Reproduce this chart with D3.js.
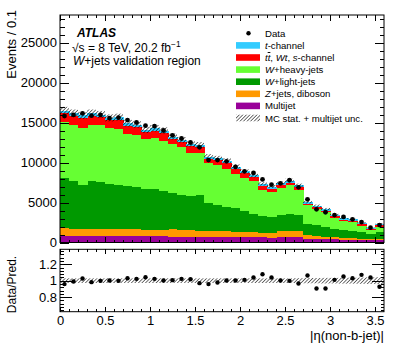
<!DOCTYPE html>
<html>
<head>
<meta charset="utf-8">
<script src="https://cdn.jsdelivr.net/npm/d3@7"></script>
<style>
  body { margin: 0; background: #fff; }
  svg { display: block; font-family: "Liberation Sans", Arial, sans-serif; }
</style>
</head>
<body>
<svg width="399" height="355"></svg>
<script>
// bins of |eta(non-b-jet)|, width 0.1, from 0 to 3.6
const binLow = d3.range(36).map(i => +(i * 0.1).toFixed(1));
const binWidth = 0.1;

// stacked predictions (events per bin), bottom to top
const multijet = [875, 830, 850, 820, 800, 800, 790, 800, 780, 760, 770, 760, 750, 740, 730, 720, 700, 690,
                  680, 670, 650, 650, 640, 620, 700, 720, 650, 500, 450, 400, 380, 350, 330, 300, 280, 300];
const zjets    = [915, 880, 900, 900, 900, 880, 860, 900, 900, 840, 850, 840, 900, 860, 820, 780, 750, 760,
                  700, 680, 650, 650, 610, 630, 750, 780, 750, 400, 350, 300, 270, 250, 220, 200, 170, 200];
const wlight   = [6250, 6040, 5460, 5990, 5840, 5650, 5600, 5380, 5320, 5030, 5010, 4900, 4520, 4400, 4240, 4380, 3470, 3300,
                  3120, 2980, 2580, 2280, 2080, 1920, 1930, 2080, 1980, 1430, 1450, 1300, 1060, 980, 870, 790, 630, 790];
const wheavy   = [7000, 6960, 7080, 7000, 7090, 6960, 6960, 6500, 6460, 6250, 6410, 6250, 6160, 5920, 5380, 5290, 5000, 4960,
                  4710, 4250, 4160, 4050, 3250, 3120, 3420, 3550, 3200, 2310, 1950, 1800, 1380, 1110, 1110, 830, 430, 710];
const ttbar    = [1160, 1160, 1290, 1160, 1070, 990, 1160, 1040, 990, 900, 950, 950, 620, 610, 860, 740, 580, 580,
                  790, 670, 590, 500, 500, 460, 350, 370, 320, 200, 200, 180, 170, 160, 150, 140, 120, 130];
const tchannel = [300, 300, 300, 300, 300, 300, 300, 300, 300, 300, 300, 300, 300, 300, 300, 300, 250, 250,
                  250, 250, 250, 250, 250, 250, 250, 250, 250, 200, 200, 200, 200, 200, 200, 200, 200, 200];

// observed data
const data = [15800, 15950, 16150, 15850, 15950, 15550, 15600, 15300, 15000, 14600, 14550, 14000, 13400, 13000, 12500, 11900, 10300, 10300,
              10150, 9450, 8900, 8700, 7880, 7230, 7400, 7780, 6900, 5400, 4150, 3780, 3430, 3200, 2900, 2550, 1850, 2180];
// Data / Pred.
const ratio = [0.958, 0.990, 1.026, 0.982, 0.998, 1.002, 0.998, 1.030, 1.022, 1.042, 1.022, 1.002, 1.006, 1.022, 1.018, 0.970, 0.958, 0.978,
               1.002, 1.002, 1.010, 1.038, 1.079, 1.038, 1.002, 0.998, 0.966, 1.063, 0.905, 0.905, 1.010, 1.051, 1.030, 1.071, 1.038, 0.925];
// relative MC stat. + multijet uncertainty
const relUnc = [0.028, 0.028, 0.028, 0.028, 0.028, 0.028, 0.028, 0.028, 0.028, 0.028, 0.028, 0.028, 0.028, 0.028, 0.028, 0.028, 0.028, 0.028,
                0.028, 0.028, 0.028, 0.028, 0.028, 0.028, 0.028, 0.028, 0.03, 0.032, 0.032, 0.034, 0.034, 0.036, 0.036, 0.038, 0.04, 0.042];

const layerKeys = ['multijet', 'zjets', 'wlight', 'wheavy', 'ttbar', 'tchannel'];
const layerColors = {
  multijet: '#990099', zjets: '#ff9900', wlight: '#009900',
  wheavy: '#66ff33', ttbar: '#ff0000', tchannel: '#33ccff'
};
const layerValues = { multijet, zjets, wlight, wheavy, ttbar, tchannel };

const yTicksMain = [0, 5000, 10000, 15000, 20000, 25000];
const yTicksRatio = [0.8, 1, 1.2];
const xTicks = [0, 0.5, 1, 1.5, 2, 2.5, 3, 3.5];

const svg = d3.select('svg');
const left = 60, right = 384;
const mainTop = 15, mainBottom = 242.5;
const ratioTop = 249.3, ratioBottom = 311.7;

const x = d3.scaleLinear().domain([0, 3.6]).range([left, right]);
const y = d3.scaleLinear().domain([0, 28440]).range([mainBottom, mainTop]);
const yr = d3.scaleLinear().domain([0.622, 1.382]).range([ratioBottom, ratioTop]);

const table = binLow.map((lo, i) => {
  const row = { lo, data: data[i], ratio: ratio[i], unc: relUnc[i] };
  layerKeys.forEach(k => row[k] = layerValues[k][i]);
  row.total = d3.sum(layerKeys, k => row[k]);
  return row;
});

// hatch pattern
const defs = svg.append('defs');
defs.append('pattern')
  .attr('id', 'hatch')
  .attr('patternUnits', 'userSpaceOnUse')
  .attr('width', 2.5).attr('height', 2.5)
  .attr('patternTransform', 'rotate(45)')
  .append('line')
  .attr('x1', 0).attr('y1', 0).attr('x2', 0).attr('y2', 2.5)
  .attr('stroke', '#000').attr('stroke-width', 1.1);

defs.append('clipPath').attr('id', 'clipMain')
  .append('rect').attr('x', left).attr('y', mainTop)
  .attr('width', right - left).attr('height', mainBottom - mainTop);
defs.append('clipPath').attr('id', 'clipRatio')
  .append('rect').attr('x', left).attr('y', ratioTop)
  .attr('width', right - left).attr('height', ratioBottom - ratioTop);

// ---- main panel ----
const stack = d3.stack().keys(layerKeys)(table);
const main = svg.append('g').attr('clip-path', 'url(#clipMain)');

main.selectAll('g.layer')
  .data(stack)
  .join('g')
  .attr('class', 'layer')
  .attr('fill', s => layerColors[s.key])
  .attr('shape-rendering', 'crispEdges')
  .selectAll('rect')
  .data(s => s)
  .join('rect')
  .attr('x', d => x(d.data.lo))
  .attr('width', d => x(d.data.lo + binWidth) - x(d.data.lo) + 0.5)
  .attr('y', d => y(d[1]))
  .attr('height', d => y(d[0]) - y(d[1]));

main.selectAll('rect.unc')
  .data(table)
  .join('rect')
  .attr('class', 'unc')
  .attr('fill', 'url(#hatch)')
  .attr('x', d => x(d.lo))
  .attr('width', d => x(d.lo + binWidth) - x(d.lo))
  .attr('y', d => y(d.total * (1 + d.unc)))
  .attr('height', d => y(d.total * (1 - d.unc)) - y(d.total * (1 + d.unc)));

main.selectAll('circle.data')
  .data(table)
  .join('circle')
  .attr('class', 'data')
  .attr('cx', d => x(d.lo + binWidth / 2))
  .attr('cy', d => y(d.data))
  .attr('r', 2.4)
  .attr('fill', '#000');

// ---- ratio panel ----
const rat = svg.append('g').attr('clip-path', 'url(#clipRatio)');
rat.selectAll('rect.unc')
  .data(table)
  .join('rect')
  .attr('class', 'unc')
  .attr('fill', 'url(#hatch)')
  .attr('x', d => x(d.lo))
  .attr('width', d => x(d.lo + binWidth) - x(d.lo))
  .attr('y', d => yr(1 + d.unc))
  .attr('height', d => yr(1 - d.unc) - yr(1 + d.unc));

rat.selectAll('circle')
  .data(table)
  .join('circle')
  .attr('cx', d => x(d.lo + binWidth / 2))
  .attr('cy', d => yr(d.ratio))
  .attr('r', 2.2)
  .attr('fill', '#000');

// ---- axes ----
function ticks(axis, pos, size, values, labels, fontSize, pad) {
  const g = svg.append('g')
    .attr('transform', pos)
    .attr('shape-rendering', 'crispEdges')
    .call(axis.tickValues(values).tickSize(size).tickPadding(pad || 3)
      .tickFormat(labels ? (d => d) : ''));
  g.select('.domain').remove();
  g.selectAll('text').attr('font-size', fontSize || 13).attr('fill', '#000')
    .attr('font-family', '"Liberation Sans", Arial, sans-serif');
  return g;
}
const minorMain = d3.range(0, 28001, 1000);
const minorRatio = d3.range(16, 35).map(i => +(i * 0.04).toFixed(2));
const minorX = d3.range(0, 36).map(i => +(i * 0.1).toFixed(1));

// main: left / right / bottom / top
ticks(d3.axisLeft(y), `translate(${left},0)`, -9, yTicksMain, true, 13, 3);
ticks(d3.axisLeft(y), `translate(${left},0)`, -4.5, minorMain, false);
ticks(d3.axisRight(y), `translate(${right},0)`, -9, yTicksMain, false);
ticks(d3.axisRight(y), `translate(${right},0)`, -4.5, minorMain, false);
ticks(d3.axisBottom(x), `translate(0,${mainBottom})`, -5.5, xTicks, false);
ticks(d3.axisBottom(x), `translate(0,${mainBottom})`, -2.8, minorX, false);
ticks(d3.axisTop(x), `translate(0,${mainTop})`, -5.5, xTicks, false);
ticks(d3.axisTop(x), `translate(0,${mainTop})`, -2.8, minorX, false);

// ratio
ticks(d3.axisLeft(yr), `translate(${left},0)`, -12, yTicksRatio, true, 13, 3);
ticks(d3.axisLeft(yr), `translate(${left},0)`, -3.5, minorRatio, false);
ticks(d3.axisRight(yr), `translate(${right},0)`, -12, yTicksRatio, false);
ticks(d3.axisRight(yr), `translate(${right},0)`, -3.5, minorRatio, false);
ticks(d3.axisBottom(x), `translate(0,${ratioBottom})`, -5, xTicks, true, 13, 4.3);
ticks(d3.axisBottom(x), `translate(0,${ratioBottom})`, -2.5, minorX, false);
ticks(d3.axisTop(x), `translate(0,${ratioTop})`, -5, xTicks, false);
ticks(d3.axisTop(x), `translate(0,${ratioTop})`, -2.5, minorX, false);

// frames
[[mainTop, mainBottom], [ratioTop, ratioBottom]].forEach(([t, b]) => {
  svg.append('rect')
    .attr('x', left).attr('y', t)
    .attr('width', right - left).attr('height', b - t)
    .attr('fill', 'none').attr('stroke', '#000').attr('stroke-width', 1);
});

// axis titles
svg.append('text')
  .attr('transform', 'translate(16,10) rotate(-90)')
  .attr('text-anchor', 'end')
  .attr('font-size', 13)
  .text('Events / 0.1');
svg.append('text')
  .attr('transform', `translate(16,${(ratioTop + ratioBottom) / 2 + 4}) rotate(-90)`)
  .attr('text-anchor', 'middle')
  .attr('font-size', 12)
  .text('Data/Pred.');
svg.append('text')
  .attr('x', right).attr('y', 340)
  .attr('text-anchor', 'end')
  .attr('font-size', 13)
  .text('|\u03b7(non-b-jet)|');

// ATLAS label
function rich(g, xPos, yPos, parts, size) {
  const t = g.append('text').attr('x', xPos).attr('y', yPos).attr('font-size', size);
  parts.forEach(p => {
    const s = t.append('tspan').text(p.t);
    if (p.i) s.attr('font-style', 'italic');
    if (p.b) s.attr('font-weight', 'bold');
    if (p.bar) s.attr('text-decoration', 'overline');
    if (p.sup) s.attr('font-size', size * 0.7).attr('dy', -size * 0.4);
  });
  return t;
}
rich(svg, 77, 36.7, [{ t: 'ATLAS', i: true, b: true }], 12);
rich(svg, 72, 51.5, [{ t: '\u221as = 8 TeV, 20.2 fb' }, { t: '\u22121', sup: true }], 12);
rich(svg, 73, 65, [{ t: 'W', i: true }, { t: '+jets validation region' }], 12);

// legend
const legendItems = [
  { type: 'data', parts: [{ t: 'Data' }] },
  { type: 'box', color: layerColors.tchannel, parts: [{ t: 't', i: true }, { t: '-channel' }] },
  { type: 'box', color: layerColors.ttbar, parts: [{ t: 't', i: true }, { t: 't', i: true, bar: true }, { t: ', ' }, { t: 'Wt', i: true }, { t: ', ' }, { t: 's', i: true }, { t: '-channel' }] },
  { type: 'box', color: layerColors.wheavy, parts: [{ t: 'W', i: true }, { t: '+heavy-jets' }] },
  { type: 'box', color: layerColors.wlight, parts: [{ t: 'W', i: true }, { t: '+light-jets' }] },
  { type: 'box', color: layerColors.zjets, parts: [{ t: 'Z', i: true }, { t: '+jets, diboson' }] },
  { type: 'box', color: layerColors.multijet, parts: [{ t: 'Multijet' }] },
  { type: 'hatch', parts: [{ t: 'MC stat. + multijet unc.' }] }
];
const legend = svg.append('g');
legendItems.forEach((it, k) => {
  const cy = 33.3 + k * 12.1;
  if (it.type === 'data') {
    legend.append('circle').attr('cx', 248.5).attr('cy', cy).attr('r', 2.2).attr('fill', '#000');
  } else {
    legend.append('rect')
      .attr('x', 236).attr('y', cy - 3.3)
      .attr('width', 24).attr('height', 6.6)
      .attr('fill', it.type === 'hatch' ? 'url(#hatch)' : it.color);
  }
  rich(legend, 265, cy + 3.5, it.parts, 9.6);
});
</script>
</body>
</html>
